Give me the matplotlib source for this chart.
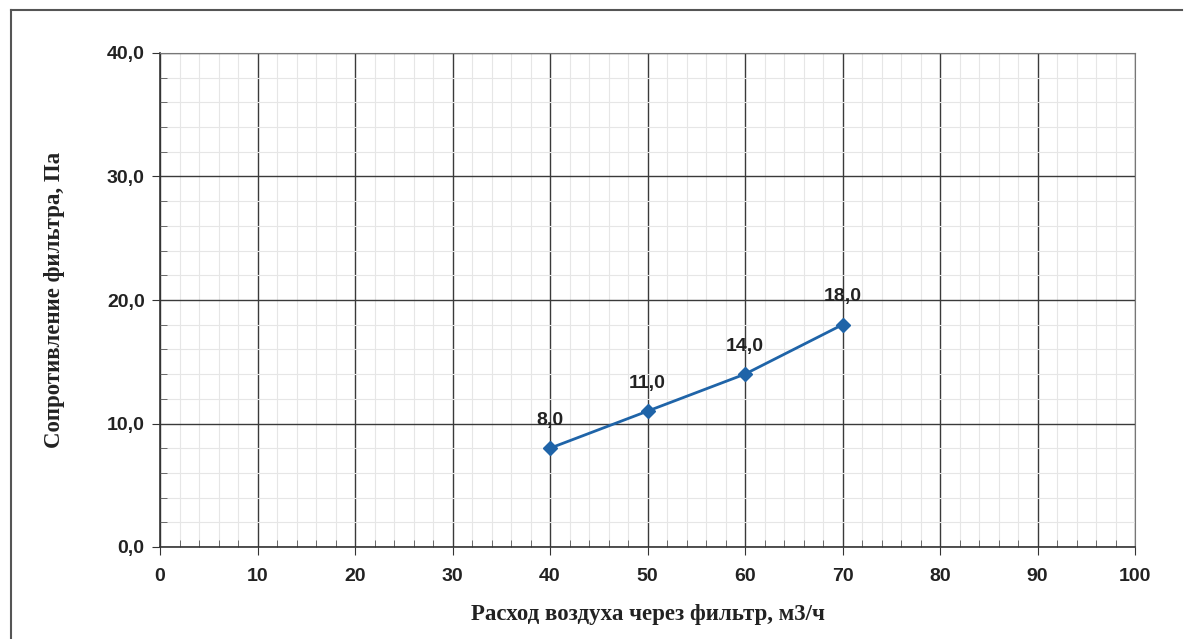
import matplotlib.pyplot as plt
from matplotlib.ticker import MultipleLocator, FuncFormatter
from matplotlib.lines import Line2D

# Данные: расход воздуха и сопротивление фильтра
rashod = [40, 50, 60, 70]
soprotivlenie = [8.0, 11.0, 14.0, 18.0]
podpisi = ['8,0', '11,0', '14,0', '18,0']

fig = plt.figure(figsize=(11.84, 6.39), dpi=100)
ax = fig.add_axes([160 / 1184, 1 - 547 / 639, 975 / 1184, 494 / 639])

# рамка вокруг всей диаграммы
fig.add_artist(Line2D([11 / 1184, 1182 / 1184], [1 - 10 / 639, 1 - 10 / 639],
                      transform=fig.transFigure, color='#555555', lw=1.5))
fig.add_artist(Line2D([11 / 1184, 11 / 1184], [1 - 10 / 639, 0],
                      transform=fig.transFigure, color='#555555', lw=1.5))

ax.plot(rashod, soprotivlenie, color='#1f64a8', lw=2, marker='D', markersize=7,
        markerfacecolor='#1f64a8', markeredgecolor='#1f64a8', zorder=5)
for x, y, t in zip(rashod, soprotivlenie, podpisi):
    ax.annotate(t, (x, y), xytext=(0, 14), textcoords='offset points',
                ha='center', va='bottom', fontsize=14, fontweight='bold',
                family='Liberation Sans', color='#222222')

ax.set_xlim(0, 100)
ax.set_ylim(0, 40)
ax.xaxis.set_major_locator(MultipleLocator(10))
ax.xaxis.set_minor_locator(MultipleLocator(2))
ax.yaxis.set_major_locator(MultipleLocator(10))
ax.yaxis.set_minor_locator(MultipleLocator(2))
ax.yaxis.set_major_formatter(FuncFormatter(lambda v, p: f'{v:.1f}'.replace('.', ',')))

ax.grid(which='major', color='#3a3a3a', lw=1.0)
ax.grid(which='minor', color='#e6e6e6', lw=0.8)
ax.set_axisbelow(True)

ax.tick_params(which='major', direction='out', length=6, color='#333333')
ax.tick_params(axis='x', which='major', pad=9)
ax.tick_params(axis='y', which='major', pad=5)
ax.tick_params(which='minor', direction='in', length=5, color='#555555')
for lab in ax.get_xticklabels() + ax.get_yticklabels():
    lab.set_fontweight('bold')
    lab.set_fontsize(14)
    lab.set_family('Liberation Sans')
    lab.set_color('#222222')

for s in ['top', 'right']:
    ax.spines[s].set_color('#777777')
for s in ['left', 'bottom']:
    ax.spines[s].set_color('#333333')
    ax.spines[s].set_linewidth(1.2)

ax.set_xlabel('Расход воздуха через фильтр, м3/ч', fontsize=16.5, fontweight='bold',
              family='Liberation Serif', labelpad=14, color='#222222')
ax.set_ylabel('Сопротивление фильтра, Па', fontsize=16.5, fontweight='bold',
              family='Liberation Serif', labelpad=30, color='#222222')

fig.savefig('out.png', dpi=100)
